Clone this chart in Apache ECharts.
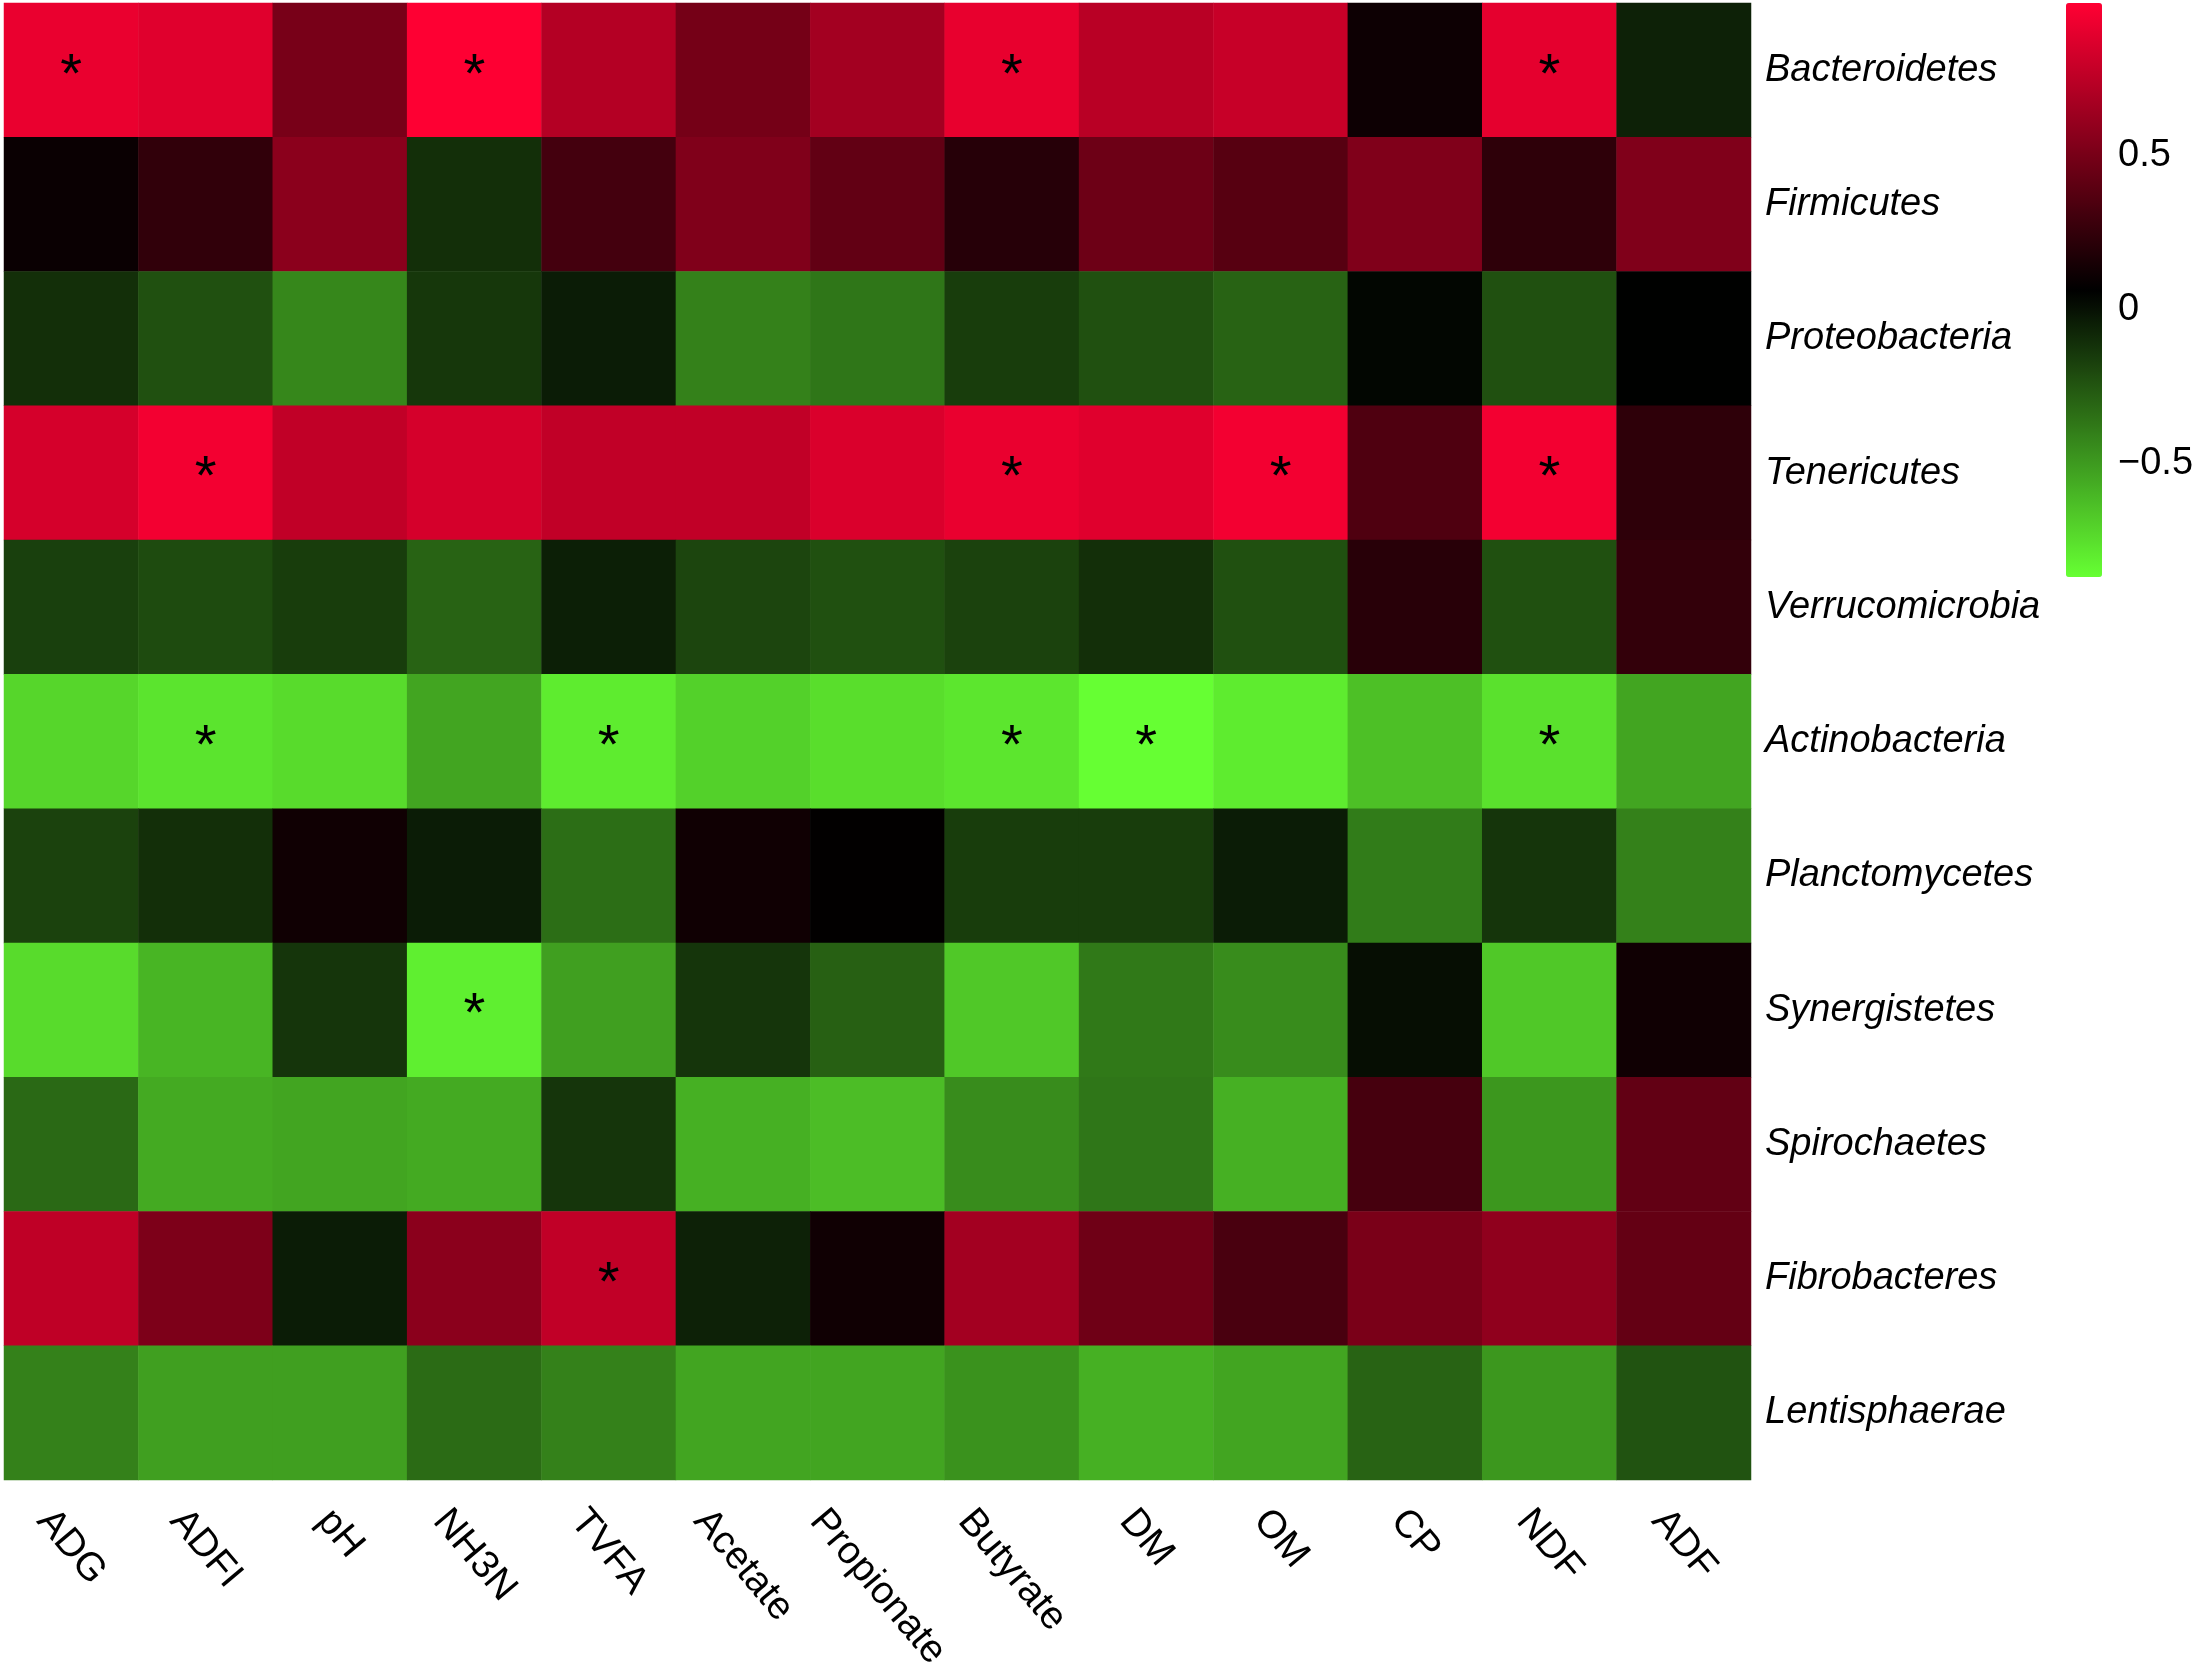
<!DOCTYPE html>
<html>
<head>
<meta charset="utf-8">
<script src="https://cdn.jsdelivr.net/npm/echarts@6/dist/echarts.min.js"></script>
<style>
html,body{margin:0;padding:0;background:#fff;}
#chart{width:2197px;height:1664px;}
</style>
</head>
<body>
<div id="chart"></div>
<script>
const columns = ['ADG','ADFI','pH','NH3N','TVFA','Acetate','Propionate','Butyrate','DM','OM','CP','NDF','ADF'];
const rows = ['Bacteroidetes','Firmicutes','Proteobacteria','Tenericutes','Verrucomicrobia','Actinobacteria','Planctomycetes','Synergistetes','Spirochaetes','Fibrobacteres','Lentisphaerae'];

const Bacteroidetes   = [0.92, 0.88, 0.50, 0.99, 0.72, 0.49, 0.66, 0.91, 0.74, 0.79, 0.11, 0.90, -0.06];
const Firmicutes      = [0.10, 0.24, 0.57, -0.11, 0.31, 0.53, 0.42, 0.20, 0.46, 0.38, 0.53, 0.23, 0.53];
const Proteobacteria  = [-0.11, -0.23, -0.43, -0.14, -0.04, -0.41, -0.37, -0.16, -0.23, -0.30, 0.04, -0.23, 0.06];
const Tenericutes     = [0.84, 0.95, 0.77, 0.84, 0.77, 0.77, 0.86, 0.92, 0.88, 0.95, 0.35, 0.95, 0.23];
const Verrucomicrobia = [-0.17, -0.21, -0.16, -0.30, -0.05, -0.19, -0.23, -0.18, -0.11, -0.23, 0.21, -0.23, 0.25];
const Actinobacteria  = [-0.72, -0.77, -0.74, -0.54, -0.80, -0.70, -0.75, -0.78, -0.87, -0.80, -0.64, -0.76, -0.54];
const Planctomycetes  = [-0.18, -0.11, 0.12, -0.04, -0.34, 0.12, 0.07, -0.16, -0.16, -0.04, -0.39, -0.13, -0.41];
const Synergistetes   = [-0.74, -0.60, -0.13, -0.81, -0.52, -0.13, -0.29, -0.67, -0.38, -0.45, 0.01, -0.67, 0.12];
const Spirochaetes    = [-0.32, -0.56, -0.54, -0.56, -0.13, -0.58, -0.63, -0.45, -0.37, -0.58, 0.32, -0.49, 0.42];
const Fibrobacteres   = [0.76, 0.52, -0.04, 0.57, 0.77, -0.06, 0.12, 0.66, 0.47, 0.33, 0.51, 0.59, 0.43];
const Lentisphaerae   = [-0.41, -0.52, -0.52, -0.33, -0.41, -0.54, -0.54, -0.47, -0.58, -0.54, -0.30, -0.49, -0.24];

// significant cells: [row, column]
const significant = [
  ['Bacteroidetes','ADG'],['Bacteroidetes','NH3N'],['Bacteroidetes','Butyrate'],['Bacteroidetes','NDF'],
  ['Tenericutes','ADFI'],['Tenericutes','Butyrate'],['Tenericutes','OM'],['Tenericutes','NDF'],
  ['Actinobacteria','ADFI'],['Actinobacteria','TVFA'],['Actinobacteria','Butyrate'],['Actinobacteria','DM'],['Actinobacteria','NDF'],
  ['Synergistetes','NH3N'],
  ['Fibrobacteres','TVFA']
];

const colorbarTicks = [-0.5, 0, 0.5];
const scaleMin = -0.87, scaleMax = 0.995;

const matrix = [Bacteroidetes, Firmicutes, Proteobacteria, Tenericutes, Verrucomicrobia, Actinobacteria,
  Planctomycetes, Synergistetes, Spirochaetes, Fibrobacteres, Lentisphaerae];

const sigSet = new Set(significant.map(s => s[0] + '|' + s[1]));
const data = [];
matrix.forEach((r, ri) => r.forEach((v, ci) => data.push([ci, ri, v])));

const FONT = 'Liberation Sans, Arial, sans-serif';
const COL_FS = 39, COL_ROT = 50, COL_GAP = 22;

// column labels: rotated text, bounding box centred under its column, tops aligned
const measureCtx = document.createElement('canvas').getContext('2d');
measureCtx.font = COL_FS + 'px "Liberation Sans"';
const rad = COL_ROT * Math.PI / 180;
const cs = Math.cos(rad), sn = Math.sin(rad);

function renderColumnLabel(params, api) {
  const ci = api.value(0);
  const name = columns[ci];
  const cx = api.coord([ci, 0])[0];
  const cs0 = params.coordSys;
  const bottom = cs0.y + cs0.height;
  const L = measureCtx.measureText(name).width;
  return {
    type: 'text',
    x: cx - (L * cs - COL_FS * sn) / 2,
    y: bottom + COL_GAP,
    rotation: -rad,
    style: {text: name, font: COL_FS + 'px ' + FONT, fill: '#000', align: 'left', verticalAlign: 'top'}
  };
}

const chart = echarts.init(document.getElementById('chart'));
chart.setOption({
  backgroundColor: '#ffffff',
  animation: false,
  grid: [
    {left: 4, top: 3, width: 1747, height: 1477, containLabel: false, outerBoundsMode: 'none'},
    {left: 2066, top: 3, width: 36, height: 574, containLabel: false, outerBoundsMode: 'none'}
  ],
  xAxis: [
    {type: 'category', data: columns, gridIndex: 0, position: 'bottom',
     axisLine: {show: false}, axisTick: {show: false}, splitLine: {show: false}, axisLabel: {show: false}},
    {type: 'value', gridIndex: 1, show: false, min: 0, max: 1}
  ],
  yAxis: [
    {type: 'category', data: rows, gridIndex: 0, inverse: true, position: 'right',
     axisLine: {show: false}, axisTick: {show: false}, splitLine: {show: false},
     axisLabel: {fontSize: 38, fontStyle: 'italic', fontFamily: FONT, color: '#000', margin: 14, interval: 0}},
    {type: 'value', gridIndex: 1, position: 'right', min: scaleMin, max: scaleMax,
     axisLine: {show: false}, axisTick: {show: false}, splitLine: {show: false},
     axisLabel: {customValues: colorbarTicks, fontSize: 38, fontFamily: FONT, color: '#000', margin: 16,
       formatter: v => String(v).replace('-', '\u2212')}}
  ],
  visualMap: {
    type: 'continuous', seriesIndex: 0, min: scaleMin, max: scaleMax,
    calculable: false, orient: 'vertical', left: 2066, top: 3, padding: 0,
    itemWidth: 36, itemHeight: 574, hoverLink: false,
    inRange: {color: ['#66FF33', '#000000', '#FF0033']}
  },
  series: [
    {type: 'heatmap', xAxisIndex: 0, yAxisIndex: 0, data: data,
     itemStyle: {borderWidth: 0},
     label: {show: true, color: '#000', fontSize: 56, fontFamily: FONT, offset: [0, 6],
       formatter: p => sigSet.has(rows[p.value[1]] + '|' + columns[p.value[0]]) ? '*' : ''},
     emphasis: {disabled: true}},
    {type: 'scatter', xAxisIndex: 1, yAxisIndex: 1, data: [], silent: true},
    {type: 'custom', xAxisIndex: 0, yAxisIndex: 0, clip: false, silent: true,
     data: columns.map((c, i) => [i]), renderItem: renderColumnLabel}
  ]
});
</script>
</body>
</html>
